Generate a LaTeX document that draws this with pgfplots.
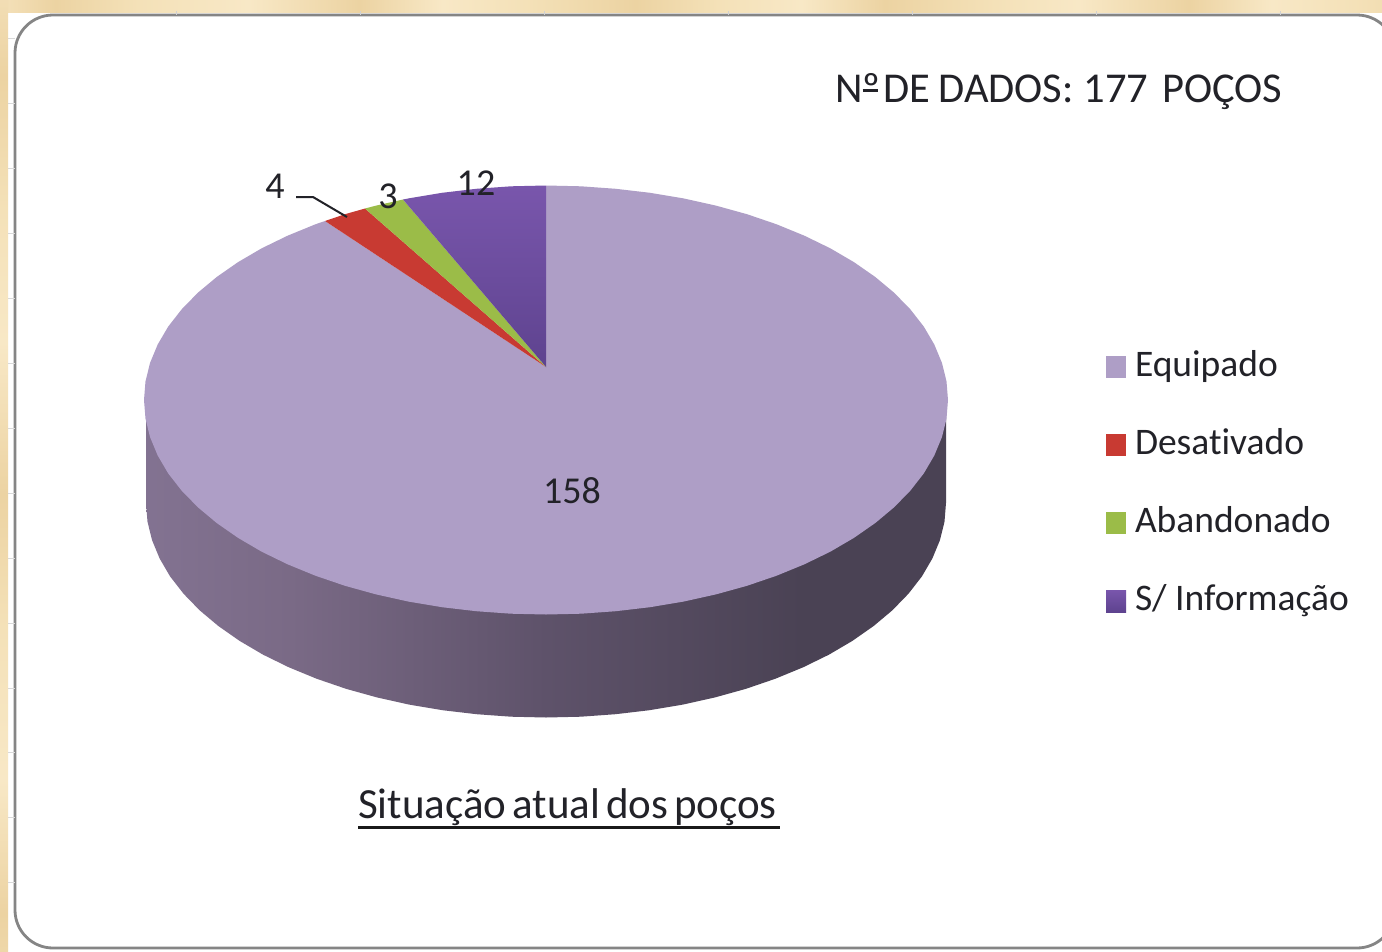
\documentclass[border=0pt]{standalone}
\usepackage{pgfplots}
\usepackage{pgfplotstable}
\usepackage{fontspec}
\setmainfont[Ligatures=NoCommon]{Carlito}
\pgfplotsset{compat=1.18}
\definecolor{slEq}{HTML}{AE9EC6}
\definecolor{slDe}{HTML}{C83A32}
\definecolor{slAb}{HTML}{9BBC48}
\definecolor{slSa}{HTML}{7956AC}
\definecolor{slSb}{HTML}{5E438F}
\definecolor{txt}{HTML}{222228}
\definecolor{sA}{RGB}{152,136,172}
\definecolor{sB}{RGB}{140,124,158}
\definecolor{sC}{RGB}{122,106,134}
\definecolor{sD}{RGB}{94,82,106}
\definecolor{sE}{RGB}{74,66,84}
\definecolor{sF}{RGB}{74,66,84}
\definecolor{pL}{RGB}{248,232,198}
\definecolor{pM}{RGB}{244,225,184}
\definecolor{pD}{RGB}{236,211,162}
\pgfdeclarehorizontalshading{pieside}{100bp}{
color(0bp)=(sA);
color(15bp)=(sB);
color(34bp)=(sC);
color(50bp)=(sD);
color(66bp)=(sE);
color(100bp)=(sF)}
\pgfdeclarehorizontalshading{papertop}{100bp}{
color(0bp)=(pM);color(4bp)=(pL);color(8bp)=(pD);color(11bp)=(pL);color(14bp)=(pM);
color(18bp)=(pD);color(21bp)=(pM);color(24bp)=(pL);color(27bp)=(pD);color(30bp)=(pM);
color(34bp)=(pL);color(38bp)=(pD);color(41bp)=(pL);color(44bp)=(pM);color(48bp)=(pD);
color(51bp)=(pM);color(54bp)=(pL);color(57bp)=(pD);color(61bp)=(pM);color(64bp)=(pL);
color(68bp)=(pD);color(71bp)=(pL);color(74bp)=(pM);color(78bp)=(pD);color(81bp)=(pM);
color(84bp)=(pL);color(88bp)=(pD);color(92bp)=(pL);color(96bp)=(pD);color(100bp)=(pM)}
\pgfdeclareverticalshading{paperleft}{100bp}{
color(0bp)=(pM);color(7bp)=(pD);color(13bp)=(pL);color(20bp)=(pM);color(27bp)=(pD);
color(34bp)=(pL);color(42bp)=(pM);color(49bp)=(pD);color(57bp)=(pL);color(64bp)=(pM);
color(71bp)=(pD);color(79bp)=(pL);color(86bp)=(pD);color(93bp)=(pL);color(100bp)=(pM)}
% Rim of the top ellipse, as offsets from its centre (pixels, y downwards)
\pgfplotstableread{
x y
0 -33
0 -214.5
35 -213.7
69.8 -211.2
104 -207.2
137.5 -201.6
169.9 -194.4
201 -185.8
230.6 -175.7
258.4 -164.3
284.3 -151.7
307.9 -137.9
329.3 -123
348.1 -107.3
364.3 -90.7
377.8 -73.4
388.3 -55.5
395.9 -37.2
400.5 -18.7
402 0
400.5 18.7
395.9 37.2
388.3 55.5
377.8 73.4
364.3 90.7
348.1 107.3
329.3 123
307.9 137.9
284.3 151.7
258.4 164.3
230.6 175.7
201 185.8
169.9 194.4
137.5 201.6
104 207.2
69.8 211.2
35 213.7
0 214.5
-35 213.7
-69.8 211.2
-104 207.2
-137.5 201.6
-169.9 194.4
-201 185.8
-230.6 175.7
-258.4 164.3
-284.3 151.7
-307.9 137.9
-329.3 123
-348.1 107.3
-364.3 90.7
-377.8 73.4
-388.3 55.5
-395.9 37.2
-400.5 18.7
-402 0
-400.5 -18.7
-395.9 -37.2
-388.3 -55.5
-377.8 -73.4
-364.3 -90.7
-348.1 -107.3
-329.3 -123
-307.9 -137.9
-284.3 -151.7
-258.4 -164.3
-230.6 -175.7
-221 -179
}\tblEquipado
\pgfplotstableread{
x y
0 -33
-221 -179
-201 -185.8
-181 -191.5
}\tblDesativado
\pgfplotstableread{
x y
0 -33
-181 -191.5
-169.9 -194.4
-143 -200.5
}\tblAbandonado
\pgfplotstableread{
x y
0 -33
-143 -200.5
-137.5 -201.6
-104 -207.2
-69.8 -211.2
-35 -213.7
0 -214.5
}\tblSemInfo
\pgfplotstableread{
x y
402 -103
402 0
400.5 18.7
395.9 37.2
388.3 55.5
377.8 73.4
364.3 90.7
348.1 107.3
329.3 123
307.9 137.9
284.3 151.7
258.4 164.3
230.6 175.7
201 185.8
169.9 194.4
137.5 201.6
104 207.2
69.8 211.2
35 213.7
0 214.5
-35 213.7
-69.8 211.2
-104 207.2
-137.5 201.6
-169.9 194.4
-201 185.8
-230.6 175.7
-258.4 164.3
-284.3 151.7
-307.9 137.9
-329.3 123
-348.1 107.3
-364.3 90.7
-377.8 73.4
-388.3 55.5
-395.9 37.2
-400.5 18.7
-402 0
-402 -103
}\tblSide
\begin{document}
\begin{tikzpicture}
\begin{axis}[
  scale only axis, width=1382pt, height=951pt,
  xmin=0, xmax=1382, ymin=0, ymax=951, y dir=reverse,
  axis lines=none, clip=true,
  legend cell align=left,
  legend style={at={(axis cs:1106,349)}, anchor=north west, draw=none, fill=none,
    inner sep=0pt, outer sep=0pt,
    font=\fontsize{37.5}{37.5}\selectfont\color{txt},
    row sep=42pt,
    nodes={inner sep=0pt, text height=27pt, text depth=9pt},
    /tikz/every odd column/.append style={column sep=9pt}},
  legend image code/.code={\fill[#1] (0pt,-11pt) rectangle (20pt,11pt);},
]
% page and panel
\fill[white] (axis cs:0,0) rectangle (axis cs:1382,951);
\shade[shading=papertop] (axis cs:0,0) rectangle (axis cs:1382,12);
\shade[shading=paperleft] (axis cs:0,0) rectangle (axis cs:8,951);
\draw[rounded corners=38pt, line width=2.8pt, color=black!48, fill=white]
  (axis cs:15,15) rectangle (axis cs:1395,948);
\pgfplotsinvokeforeach{176,360,544,728,912,1096,1280}{
  \draw[line width=1pt, color=black!18] (axis cs:#1,11) -- (axis cs:#1,15);
}
\pgfplotsinvokeforeach{38,103,168,233,298,363,428,493,558,623,688,752,817,882}{
  \draw[line width=1pt, color=black!15] (axis cs:8,#1) -- (axis cs:15,#1);
}
% side of the pie
\addplot[forget plot, shade, shading=pieside, draw=none]
  table[x expr=546+0.995*\thisrow{x}, y expr=503+\thisrow{y}] {\tblSide};
% slices
\addplot[fill=slEq, draw=none] table[x expr=546+\thisrow{x}, y expr=400+\thisrow{y}] {\tblEquipado};
\addlegendentry{Equipado}
\addplot[fill=slDe, draw=none] table[x expr=546+\thisrow{x}, y expr=400+\thisrow{y}] {\tblDesativado};
\addlegendentry{Desativado}
\addplot[fill=slAb, draw=none] table[x expr=546+\thisrow{x}, y expr=400+\thisrow{y}] {\tblAbandonado};
\addlegendentry{Abandonado}
\addplot[top color=slSa, bottom color=slSb, draw=none] table[x expr=546+\thisrow{x}, y expr=400+\thisrow{y}] {\tblSemInfo};
\addlegendentry{S/ Informação}
% leader line
\addplot[forget plot, color=txt, line width=2pt] coordinates {(296,197) (313,197) (347,217)};
% texts
\tikzset{lab/.style={text=txt, inner sep=0pt, font=\fontsize{38}{38}\selectfont}}
\node[lab] at (axis cs:572,491) {158};
\node[lab] at (axis cs:476,183) {12};
\node[lab] at (axis cs:388,196) {3};
\node[lab] at (axis cs:275,186) {4};
\node[lab, font=\fontsize{42.5}{42.5}\selectfont, anchor=base west] at (axis cs:835,102)
  {N\rlap{\raisebox{10pt}{\rule{15pt}{2.6pt}}}º\hspace{3pt}DE\hspace{8pt}DADOS:\hspace{10pt}177\hspace{14pt}POÇOS};
\node[lab, font=\fontsize{43}{43}\selectfont, anchor=base west] at (axis cs:358,818)
  {Situação\hspace{6pt}atual\hspace{6pt}dos\hspace{6pt}poços};
\draw[line width=3pt, color=black!90] (axis cs:358,827) -- (axis cs:780,827);
\end{axis}
\end{tikzpicture}
\end{document}
